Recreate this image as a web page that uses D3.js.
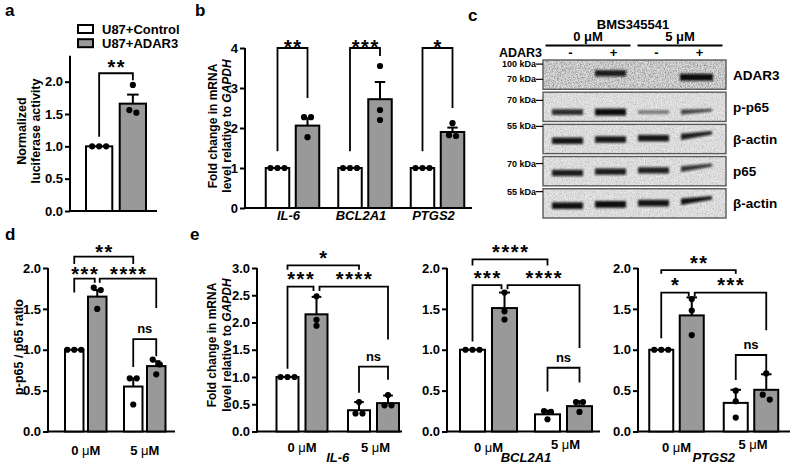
<!DOCTYPE html>
<html><head><meta charset="utf-8">
<script src="https://cdn.jsdelivr.net/npm/d3@7/dist/d3.min.js"></script>
<style>body{margin:0;background:#fff}svg{display:block}</style>
</head><body>
<script>
// ================= DATA =================
// panel a
const groupsA = ["U87+Control", "U87+ADAR3"];
const meansA = [1.0, 1.66];
const errsA = [0, 0.14];
const pointsA = [[1, 1, 1], [1.52, 1.95, 1.56]];
const ticksA = [0, 0.5, 1.0, 1.5, 2.0];
const sigA = [{from: 0, to: 1, label: "**", top: 2.13, legA: 1.15, legB: 2.02}];

// panel b
const genesB = ["IL-6", "BCL2A1", "PTGS2"];
const ctrlMeansB = [1, 1, 1];
const ctrlPointsB = [[1, 1, 1], [1, 1, 1], [1, 1, 1]];
const adarMeansB = [2.06, 2.72, 1.9];
const adarErrsB = [0.18, 0.43, 0.11];
const adarPointsB = [[2.27, 1.77, 2.27], [3.55, 2.45, 2.2], [2.12, 1.82, 1.8]];
const ticksB = [0, 1, 2, 3, 4];
const sigLabelsB = ["**", "***", "*"];
const sigTopB = [4.0, 4.0, 4.0];
const sigLegCtrlB = [1.42, 1.42, 1.42];
const sigLegAdarB = [2.75, 3.8, 2.5];

// panel c (western blot)
const doseHeaders = ["0 μM", "5 μM"];
const adarSigns = ["-", "+", "-", "+"];
const blotRows = ["ADAR3", "p-p65", "β-actin", "p65", "β-actin"];
const bandIntensity = [
  [0, 0.85, 0, 1.0],
  [0.75, 0.97, 0.32, 0.6],
  [0.88, 0.88, 0.88, 0.85],
  [0.85, 0.85, 0.82, 0.72],
  [0.92, 0.96, 0.9, 0.9]
];
const markerLabels = ["100 kDa", "70 kDa", "70 kDa", "55 kDa", "70 kDa", "55 kDa"];
const markerRows = [0, 0, 1, 2, 3, 4];

// panel d
const doses = ["0 μM", "5 μM"];
const ctrlMeansD = [1.0, 0.55];
const ctrlErrsD = [0, 0.1];
const ctrlPointsD = [[1, 1, 1], [0.65, 0.65, 0.33]];
const adarMeansD = [1.65, 0.8];
const adarErrsD = [0.08, 0.06];
const adarPointsD = [[1.76, 1.73, 1.5], [0.88, 0.82, 0.7]];
const ticksD = [0, 0.5, 1.0, 1.5, 2.0];
const sigD = [
  {from: 0, to: 2, label: "**", top: 2.14, legA: 2.05, legB: 2.05},
  {from: 0, to: 1, label: "***", top: 1.87, legA: 1.70, legB: 1.82},
  {from: 1, to: 3, label: "****", top: 1.87, legA: 1.82, legB: 1.51},
  {from: 2, to: 3, label: "ns", top: 1.13, legA: 0.79, legB: 0.92}
];

// panel e
const genesE = ["IL-6", "BCL2A1", "PTGS2"];
const maxE = [3, 2, 2];
const ticksE = [[0, 0.5, 1.0, 1.5, 2.0, 2.5, 3.0], [0, 0.5, 1.0, 1.5, 2.0], [0, 0.5, 1.0, 1.5, 2.0]];
const ctrlMeansE = [[1, 0.39], [1, 0.21], [1, 0.35]];
const ctrlErrsE = [[0, 0.15], [0, 0.045], [0, 0.16]];
const ctrlPointsE = [[[1, 1, 1], [0.33, 0.54, 0.33]], [[1, 1, 1], [0.25, 0.15, 0.24]], [[1, 1, 1], [0.5, 0.37, 0.17]]];
const adarMeansE = [[2.15, 0.52], [1.51, 0.31], [1.42, 0.51]];
const adarErrsE = [[0.32, 0.14], [0.19, 0.06], [0.22, 0.19]];
const adarPointsE = [[[2.48, 2.05, 1.94], [0.48, 0.67, 0.48]], [[1.70, 1.47, 1.37], [0.36, 0.24, 0.36]], [[1.62, 1.48, 1.18], [0.71, 0.45, 0.39]]];
const sigE = [
  [
    {from: 0, to: 2, label: "*", top: 3.05, legA: 2.97, legB: 2.97},
    {from: 0, to: 1, label: "***", top: 2.66, legA: 1.15, legB: 2.58},
    {from: 1, to: 3, label: "****", top: 2.66, legA: 2.58, legB: 1.69},
    {from: 2, to: 3, label: "ns", top: 1.19, legA: 0.71, legB: 0.95}
  ],
  [
    {from: 0, to: 2, label: "****", top: 2.106, legA: 2.03, legB: 2.03},
    {from: 0, to: 1, label: "***", top: 1.79, legA: 1.1, legB: 1.74},
    {from: 1, to: 3, label: "****", top: 1.79, legA: 1.74, legB: 1.02},
    {from: 2, to: 3, label: "ns", top: 0.78, legA: 0.49, legB: 0.6}
  ],
  [
    {from: 0, to: 2, label: "**", top: 1.975, legA: 1.93, legB: 1.93},
    {from: 0, to: 1, label: "*", top: 1.70, legA: 1.14, legB: 1.65},
    {from: 1, to: 3, label: "***", top: 1.70, legA: 1.65, legB: 1.24},
    {from: 2, to: 3, label: "ns", top: 0.936, legA: 0.63, legB: 0.73}
  ]
];

// ================= DRAWING =================
const FONT = "'Liberation Sans', Arial, Helvetica, sans-serif";
const GREY = "#999999";
const svg = d3.select("body").append("svg").attr("width", 792).attr("height", 465)
  .attr("font-family", FONT).attr("font-weight", "bold");
const defs = svg.append("defs");
defs.append("filter").attr("id", "blur").attr("x", "-30%").attr("y", "-150%").attr("width", "160%").attr("height", "400%")
  .append("feGaussianBlur").attr("stdDeviation", 1.1);
const nf = defs.append("filter").attr("id", "noise").attr("x", 0).attr("y", 0).attr("width", 1).attr("height", 1);
nf.append("feTurbulence").attr("type", "fractalNoise").attr("baseFrequency", 0.75).attr("numOctaves", 2).attr("seed", 4).attr("result", "t");
nf.append("feColorMatrix").attr("in", "t").attr("type", "matrix")
  .attr("values", "0 0 0 0 0  0 0 0 0 0  0 0 0 0 0  0 0 0 0.9 -0.33").attr("result", "a");
nf.append("feComposite").attr("in", "SourceGraphic").attr("in2", "a").attr("operator", "in");

function text(g, x, y, s, size, anchor = "middle") {
  return g.append("text").attr("x", x).attr("y", y).attr("font-size", size).attr("text-anchor", anchor).text(s);
}

function yAxis(g, y, x, ticks, fmt, topVal) {
  const ax = d3.axisLeft(y).tickValues(ticks).tickFormat(fmt).tickSize(5).tickSizeOuter(0).tickPadding(2);
  const gg = g.append("g").attr("transform", `translate(${x},0)`).call(ax)
    .attr("font-family", FONT).attr("font-size", 13).attr("font-weight", "bold");
  gg.select(".domain").remove();
  gg.selectAll(".tick line").attr("stroke", "#000").attr("stroke-width", 2);
  gg.selectAll(".tick text").attr("fill", "#000");
  gg.append("line").attr("x1", 0).attr("x2", 0).attr("y1", y(0) + 1).attr("y2", y(topVal))
    .attr("stroke", "#000").attr("stroke-width", 2);
}

function xAxisLine(g, y, x0, x1) {
  g.append("line").attr("x1", x0 - 1).attr("x2", x1).attr("y1", y(0)).attr("y2", y(0))
    .attr("stroke", "#000").attr("stroke-width", 2);
}

function spread(vals, y, d) {
  const items = vals.map((v, i) => ({v, py: y(v), i})).sort((a, b) => a.py - b.py);
  const clusters = []; let cur = [];
  items.forEach(it => {
    if (cur.length && it.py - cur[cur.length - 1].py > 5.5) { clusters.push(cur); cur = []; }
    cur.push(it);
  });
  if (cur.length) clusters.push(cur);
  clusters.forEach(c => c.forEach((it, k) => it.dx = (k - (c.length - 1) / 2) * d));
  return items;
}

// bars: [{cx, bw, mean, err, pts, fill}]
function drawBars(g, y, bars) {
  bars.forEach(b => {
    g.append("rect").attr("x", b.cx - b.bw / 2).attr("y", y(b.mean)).attr("width", b.bw)
      .attr("height", y(0) - y(b.mean)).attr("fill", b.fill).attr("stroke", "#000").attr("stroke-width", 2);
  });
  bars.forEach(b => {
    if (b.err > 0) {
      const cap = b.bw * 0.22;
      g.append("line").attr("x1", b.cx).attr("x2", b.cx).attr("y1", y(b.mean)).attr("y2", y(b.mean + b.err))
        .attr("stroke", "#000").attr("stroke-width", 2);
      g.append("line").attr("x1", b.cx - cap).attr("x2", b.cx + cap).attr("y1", y(b.mean + b.err)).attr("y2", y(b.mean + b.err))
        .attr("stroke", "#000").attr("stroke-width", 2);
    }
    spread(b.pts, y, 7).forEach(p => {
      g.append("circle").attr("cx", b.cx + p.dx).attr("cy", p.py).attr("r", 3.1).attr("fill", "#000");
    });
  });
}

function bracket(g, y, xA, xB, s, starGap) {
  const path = d3.path();
  path.moveTo(xA, y(s.legA)); path.lineTo(xA, y(s.top)); path.lineTo(xB, y(s.top)); path.lineTo(xB, y(s.legB));
  g.append("path").attr("d", path.toString()).attr("fill", "none").attr("stroke", "#000").attr("stroke-width", 1.8);
  const mx = (xA + xB) / 2;
  if (s.label === "ns") {
    text(g, mx, y(s.top) - 6, "ns", 13);
  } else {
    text(g, mx + 0.8, y(s.top) - starGap + 11.5, s.label, 20).attr("letter-spacing", 1.6);
  }
}

function doseLabel(g, x, y, dose) {
  const parts = dose.split(" ");
  const t = g.append("text").attr("x", x).attr("y", y).attr("font-size", 13).attr("text-anchor", "middle");
  t.append("tspan").text(parts[0] + " ");
  t.append("tspan").attr("font-weight", "normal").text(parts[1][0]);
  t.append("tspan").text(parts[1].slice(1));
}

function yLabel(g, lines, x0, cy, size, gap) {
  lines.forEach((segs, i) => {
    const t = g.append("text").attr("transform", `translate(${x0 + i * gap},${cy}) rotate(-90)`)
      .attr("text-anchor", "middle").attr("font-size", size);
    segs.forEach(s => t.append("tspan").attr("font-style", s[1] ? "italic" : "normal").text(s[0]));
  });
}

const fmt1 = d3.format(".1f");

// panel letters
text(svg, 5, 16, "a", 17, "start");
text(svg, 195, 16, "b", 17, "start");
text(svg, 468, 21, "c", 17, "start");
text(svg, 5, 240, "d", 17, "start");
text(svg, 190, 240, "e", 17, "start");

// ---------- panel a ----------
{
  const g = svg.append("g");
  const y = d3.scaleLinear().domain([0, 2.4]).range([211, 55.8]);
  const x = d3.scaleBand().domain(groupsA).range([86, 146]).paddingInner(0.22);
  yAxis(g, y, 70, ticksA, fmt1, 2.4);
  xAxisLine(g, y, 70, 157);
  const bars = groupsA.map((k, i) => ({cx: x(k) + x.bandwidth() / 2, bw: x.bandwidth(), mean: meansA[i], err: errsA[i], pts: pointsA[i], fill: i ? GREY : "#fff"}));
  drawBars(g, y, bars);
  sigA.forEach(s => bracket(g, y, bars[s.from].cx, bars[s.to].cx, s, 11));
  yLabel(g, [[["Normalized", 0]], [["luciferase activity", 0]]], 25.5, 131, 12.5, 14.5);
  // legend
  groupsA.forEach((k, i) => {
    g.append("rect").attr("x", 78).attr("y", 25 + i * 14.2).attr("width", 15).attr("height", 8)
      .attr("fill", i ? GREY : "#fff").attr("stroke", "#000").attr("stroke-width", 2);
    text(g, 102, 33.5 + i * 14.2, k, 13, "start");
  });
}

// ---------- panel b ----------
{
  const g = svg.append("g");
  const y = d3.scaleLinear().domain([0, 4]).range([208, 48]);
  const x = d3.scaleBand().domain(genesB).range([256.25, 473.75]);
  const xi = d3.scaleBand().domain([0, 1]).range([9.5, 63]).paddingInner(0.217);
  yAxis(g, y, 245, ticksB, d3.format("d"), 4);
  xAxisLine(g, y, 245, 472);
  genesB.forEach((gene, j) => {
    const bars = [0, 1].map(i => ({
      cx: x(gene) + xi(i) + xi.bandwidth() / 2, bw: xi.bandwidth(),
      mean: i ? adarMeansB[j] : ctrlMeansB[j], err: i ? adarErrsB[j] : 0,
      pts: i ? adarPointsB[j] : ctrlPointsB[j], fill: i ? GREY : "#fff"
    }));
    drawBars(g, y, bars);
    bracket(g, y, bars[0].cx, bars[1].cx, {label: sigLabelsB[j], top: sigTopB[j], legA: sigLegCtrlB[j], legB: sigLegAdarB[j]}, 5.5);
    text(g, x(gene) + x.bandwidth() / 2 - 4, 220, gene, 13).attr("font-style", "italic");
  });
  yLabel(g, [[["Fold change in mRNA", 0]], [["level relative to ", 0], ["GAPDH", 1]]], 217, 126, 12, 14);
}

// ---------- panel c (blot) ----------
{
  const g = svg.append("g");
  const lane = d3.scaleBand().domain(d3.range(4)).range([546, 718]);
  const row = d3.scaleBand().domain(d3.range(5)).range([60, 218]).paddingInner(0.09);
  const lc = j => lane(j) + lane.bandwidth() / 2;
  text(g, 633, 29, "BMS345541", 13);
  doseHeaders.forEach((d, k) => {
    const xa = k ? lc(2) - 16 : lc(0) - 22, xb = k ? lc(3) + 26 : lc(1) + 20;
    text(g, (xa + xb) / 2, 41, d, 13);
    g.append("line").attr("x1", xa).attr("x2", xb).attr("y1", 45.5).attr("y2", 45.5).attr("stroke", "#000").attr("stroke-width", 2.2);
  });
  text(g, 542, 56.5, "ADAR3", 12.5, "end");
  adarSigns.forEach((s, j) => text(g, lc(j) + 3, 57, s, 13));
  const rowFrac = [0.52, 0.68, 0.56, 0.56, 0.58];
  blotRows.forEach((name, i) => {
    g.append("rect").attr("x", 543).attr("y", row(i)).attr("width", 183).attr("height", row.bandwidth())
      .attr("fill", i === 0 ? "#dedede" : "#e8e8e8");
    g.append("rect").attr("x", 543).attr("y", row(i)).attr("width", 183).attr("height", row.bandwidth())
      .attr("fill", "#000").attr("opacity", i === 0 ? 0.9 : 0.45).attr("filter", "url(#noise)");
    bandIntensity[i].forEach((I, j) => {
      if (I <= 0) return;
      const slant = (j === 3 && i >= 1);
      const hL = 2.4 + 4.6 * I, hR = slant ? hL * 0.55 : hL;
      const rise = slant ? (i === 1 ? 2 : 4) : 0;
      const cy = row(i) + rowFrac[i] * row.bandwidth() - (i >= 2 ? j * 1.3 : 0) + (i === 0 ? (j === 3 ? 2 : -2) : 0);
      const wHalf = (i === 0 && j === 3) ? 16.5 : 15.5;
      const x0 = lc(j) - wHalf, x1 = lc(j) + wHalf;
      const p = d3.path();
      p.moveTo(x0, cy - hL / 2);
      p.lineTo(x1, cy - hR / 2 - rise);
      p.lineTo(x1, cy + hR / 2 - rise);
      p.lineTo(x0, cy + hL / 2);
      p.closePath();
      g.append("path").attr("d", p.toString()).attr("fill", "#0a0a0a").attr("opacity", Math.min(1, 0.2 + 0.85 * I))
        .attr("filter", "url(#blur)");
    });
    g.append("rect").attr("x", 543).attr("y", row(i)).attr("width", 183).attr("height", row.bandwidth())
      .attr("fill", "none").attr("stroke", "#5a5a5a").attr("stroke-width", 1.4);
    text(g, 733, row(i) + row.bandwidth() / 2 + 5, name, 13.5, "start");
  });
  const markerFrac = [0.14, 0.66, 0.28, 0.07, 0.24, 0.1];
  markerLabels.forEach((m, k) => {
    const yy = row(markerRows[k]) + markerFrac[k] * row.bandwidth();
    text(g, 536, yy + 3, m, 9, "end");
    g.append("line").attr("x1", 536).attr("x2", 543).attr("y1", yy).attr("y2", yy).attr("stroke", "#000").attr("stroke-width", 1.2);
  });
}

// ---------- panel d ----------
{
  const g = svg.append("g");
  const y = d3.scaleLinear().domain([0, 2]).range([431.5, 268]);
  const x = d3.scaleBand().domain(doses).range([56.25, 174.25]);
  const xi = d3.scaleBand().domain([0, 1]).range([8.75, 50.25]).paddingInner(0.196);
  yAxis(g, y, 48, ticksD, fmt1, 2);
  xAxisLine(g, y, 48, 175);
  const bars = [];
  doses.forEach((d, k) => {
    [0, 1].forEach(i => bars.push({
      cx: x(d) + xi(i) + xi.bandwidth() / 2, bw: xi.bandwidth(),
      mean: i ? adarMeansD[k] : ctrlMeansD[k], err: i ? adarErrsD[k] : ctrlErrsD[k],
      pts: i ? adarPointsD[k] : ctrlPointsD[k], fill: i ? GREY : "#fff"
    }));
    doseLabel(g, x(d) + x.bandwidth() / 2, 455, d);
  });
  drawBars(g, y, bars);
  sigD.forEach(s => {
    const xa = bars[s.from].cx + (s.from === 1 ? 2.5 : 0);
    const xb = bars[s.to].cx - (s.to === 1 ? 2.5 : 0);
    bracket(g, y, xa, xb, s, 9);
  });
  yLabel(g, [[["p-p65 / p65 ratio", 0]]], 23, 347, 12.5, 0);
}

// ---------- panel e ----------
{
  const g = svg.append("g");
  const axisXs = [257, 447, 638];
  const xEnds = [402, 600, 790];
  const ranges = [[266.25, 409.25], [451, 601], [639.25, 788.25]];
  const bws = [22, 25, 24];
  const gaps = [7, 7, 6.5];
  genesE.forEach((gene, j) => {
    const y = d3.scaleLinear().domain([0, maxE[j]]).range([431.5, 268]);
    const x = d3.scaleBand().domain(doses).range(ranges[j]);
    const inner = 2 * bws[j] + gaps[j];
    const pad = (x.bandwidth() - inner) / 2;
    const xi = d3.scaleBand().domain([0, 1]).range([pad, pad + inner]).paddingInner(gaps[j] / (bws[j] + gaps[j]));
    yAxis(g, y, axisXs[j], ticksE[j], fmt1, maxE[j]);
    xAxisLine(g, y, axisXs[j], xEnds[j]);
    const bars = [];
    doses.forEach((d, k) => {
      [0, 1].forEach(i => bars.push({
        cx: x(d) + xi(i) + xi.bandwidth() / 2, bw: xi.bandwidth(),
        mean: i ? adarMeansE[j][k] : ctrlMeansE[j][k], err: i ? adarErrsE[j][k] : ctrlErrsE[j][k],
        pts: i ? adarPointsE[j][k] : ctrlPointsE[j][k], fill: i ? GREY : "#fff"
      }));
      doseLabel(g, x(d) + x.bandwidth() / 2 + (k ? 2 : 0), (j > 0 && k === 1) ? 449 : 452, d);
    });
    drawBars(g, y, bars);
    sigE[j].forEach(s => {
      const xa = bars[s.from].cx + (s.from === 1 ? 3 : 0);
      const xb = bars[s.to].cx - (s.to === 1 ? 3 : 0);
      bracket(g, y, xa, xb, s, 12);
    });
    const mid = (bars[0].cx + bars[3].cx) / 2;
    text(g, mid, 462, gene, 13).attr("font-style", "italic");
  });
  yLabel(g, [[["Fold change in mRNA", 0]], [["level relative to ", 0], ["GAPDH", 1]]], 216, 345, 12, 14.5);
}
</script>
</body></html>
